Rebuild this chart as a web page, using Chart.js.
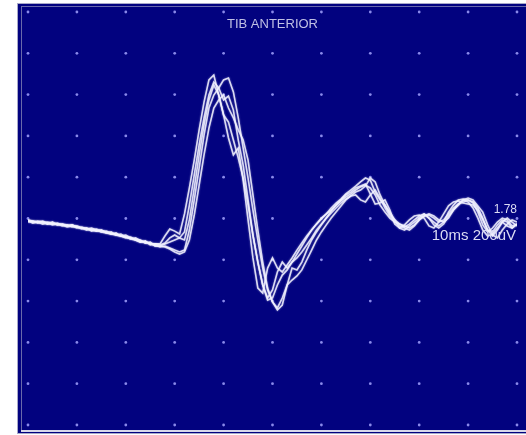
<!DOCTYPE html>
<html>
<head>
<meta charset="utf-8">
<script src="https://cdn.jsdelivr.net/npm/chart.js@4/dist/chart.umd.min.js"></script>
<style>
  html, body { margin: 0; padding: 0; background: #fff; }
  #wrap { width: 526px; height: 435px; }
</style>
</head>
<body>
<div id="wrap"><canvas id="myChart" width="526" height="435"></canvas></div>
<script>
// EMG traces, tib anterior, 10 ms/div and 200 uV/div

const title = 'TIB ANTERIOR'
const scaleText = '10ms 200uV'
const ampText = '1.78'

// time in ms
const timeMs = [0,1,2,3,4,5,6,7,8,9,10,11,12,13,14,15,16,17,18,19,20,21,22,23,24,25,26,27,28,29,30,
  31,32,33,34,35,36,37,38,39,40,41,42,43,44,45,46,47,48,49,50,51,52,53,54,55,56,57,58,59,60,
  61,62,63,64,65,66,67,68,69,70,71,72,73,74,75,76,77,78,79,80,81,82,83,84,85,86,87,88,89,90,
  91,92,93,94,95,96,97,98,99,100]

// grid divisions
const xTicks = [0,10,20,30,40,50,60,70,80,90,100]
const yTicks = [-1000,-800,-600,-400,-200,0,200,400,600,800,1000]

// amplitude in uV, one array per sweep
const sweep1 = [-12,-17,-17,-12,-22,-27,-22,-31,-36,-31,-41,-46,-46,-56,-61,-56,-70,-75,-70,-85,-90,-94,-104,-114,-109,-123,-123,
  -123,-85,-51,-61,-75,22,148,283,429,564,671,695,598,501,390,308,341,186,-7,-191,-337,-361,-240,-191,
  -240,-259,-225,-191,-153,-119,-85,-56,-27,2,22,41,65,85,104,119,138,153,162,148,
  114,65,31,2,-17,-27,-36,-46,-31,-7,12,22,12,-7,-17,2,41,70,90,80,
  51,2,-56,-85,-75,-46,-17,-36,-46,-27]
const sweep2 = [-7,-12,-17,-22,-17,-22,-31,-27,-31,-41,-36,-46,-51,-46,-56,-65,-61,-70,-80,-85,-80,-94,-99,-104,-119,-114,-133,
  -133,-123,-114,-104,-94,-65,65,211,356,487,598,661,632,574,593,525,380,259,90,-80,-211,-322,-385,-346,
  -259,-211,-240,-211,-172,-133,-94,-56,-27,-2,22,51,75,94,119,138,157,177,196,186,
  128,90,65,22,-7,-27,-41,-27,-7,12,22,2,-17,-36,-17,31,65,90,94,90,
  80,51,2,-56,-85,-56,-17,2,-17,-36]
const sweep3 = [-17,-12,-22,-17,-27,-22,-27,-36,-31,-36,-46,-41,-51,-56,-51,-61,-65,-75,-80,-75,-90,-99,-94,-109,-114,-123,-128,
  -138,-133,-143,-153,-162,-153,-56,90,245,404,535,598,632,671,680,613,487,341,196,41,-104,-240,-346,-404,
  -443,-419,-322,-240,-249,-211,-153,-104,-65,-31,2,36,65,90,114,128,148,157,167,119,
  70,75,90,41,-27,-46,-31,-7,12,17,2,-36,-46,-17,22,61,80,85,75,70,
  65,41,-7,-56,-65,-31,-7,-17,-46,-27]
const sweep4 = [-12,-22,-17,-27,-22,-31,-27,-31,-41,-36,-41,-51,-46,-61,-56,-65,-70,-65,-80,-85,-94,-90,-104,-109,-119,-119,-133,
  -133,-138,-148,-162,-172,-162,-104,17,162,308,438,535,574,598,535,487,429,380,283,114,-56,-211,-337,-404,
  -433,-385,-322,-298,-278,-249,-201,-153,-104,-65,-31,2,31,61,90,109,128,138,157,196,
  177,114,65,31,-7,-46,-56,-36,-17,2,22,2,-31,-46,-27,12,41,65,90,99,
  90,61,31,-31,-80,-94,-56,-27,-7,-17]
const sweep5 = [-7,-17,-12,-17,-27,-17,-31,-27,-36,-31,-41,-46,-56,-51,-61,-56,-65,-75,-75,-85,-90,-99,-104,-114,-109,-128,-123,
  -128,-119,-94,-80,-94,-104,-7,148,308,453,574,647,598,501,467,380,293,196,65,-80,-211,-322,-395,-385,
  -322,-274,-249,-211,-191,-162,-128,-94,-56,-27,2,27,51,75,94,109,114,90,80,114,
  138,99,51,12,-17,-36,-46,-56,-36,-7,12,17,2,-17,-7,22,51,70,80,90,
  75,31,-31,-65,-46,-17,2,-7,-36,-27]

const sweeps = [sweep1, sweep2, sweep3, sweep4, sweep5]

// screen background, frame and dotted graticule
const scopePlugin = {
    id: 'scope',
    beforeDraw(chart) {
        const ctx = chart.ctx
        const xs = chart.scales.x
        const ys = chart.scales.y
        ctx.save()
        ctx.fillStyle = '#02027f'
        ctx.fillRect(17, 3, 509, 431)
        ctx.strokeStyle = '#a8a8c8'
        ctx.lineWidth = 1
        ctx.strokeRect(17.5, 3.5, 509, 430)
        ctx.strokeStyle = 'rgba(150,150,190,0.7)'
        ctx.strokeRect(21.5, 6.5, 506, 424)
        ctx.strokeStyle = '#d8d8ea'
        ctx.lineWidth = 2
        ctx.beginPath()
        ctx.moveTo(21, 431)
        ctx.lineTo(526, 431)
        ctx.stroke()
        ctx.fillStyle = '#8a8aea'
        xTicks.forEach(tx => {
            yTicks.forEach(ty => {
                ctx.beginPath()
                ctx.arc(xs.getPixelForValue(tx), ys.getPixelForValue(ty), 1.4, 0, Math.PI * 2)
                ctx.fill()
            })
        })
        ctx.restore()
    },
    beforeDatasetsDraw(chart) {
        // soft glow like the scanned trace
        chart.ctx.save()
        chart.ctx.shadowColor = 'rgba(230,230,255,0.6)'
        chart.ctx.shadowBlur = 2
    },
    afterDatasetsDraw(chart) {
        chart.ctx.restore()
    },
    afterDraw(chart) {
        const ctx = chart.ctx
        const area = chart.chartArea
        ctx.save()
        ctx.fillStyle = '#c0c0e4'
        ctx.font = '13px "Liberation Sans", Arial, sans-serif'
        ctx.textAlign = 'center'
        ctx.textBaseline = 'middle'
        ctx.fillText(title, (area.left + area.right) / 2, 24)
        ctx.fillStyle = '#dcdcf4'
        ctx.textAlign = 'right'
        ctx.font = '12px "Liberation Sans", Arial, sans-serif'
        ctx.fillText(ampText, area.right, 210)
        ctx.font = '15px "Liberation Sans", Arial, sans-serif'
        ctx.fillText(scaleText, area.right - 1, 236)
        ctx.restore()
    }
}

function createChart() {
    const ctx = document.getElementById('myChart')
    const myChart = new Chart(ctx, {
        type: 'line',
        data: {
            datasets: sweeps.map((s, i) => ({
                label: 'sweep ' + (i + 1),
                data: timeMs.map((t, j) => ({ x: t, y: s[j] })),
                borderColor: 'rgba(245,245,255,0.85)',
                borderWidth: 1.6,
                pointRadius: 0,
                tension: 0,
                fill: false
            }))
        },
        options: {
            responsive: false,
            animation: false,
            layout: {
                padding: { left: 28, right: 9, top: 12, bottom: 10 }
            },
            scales: {
                x: { type: 'linear', min: 0, max: 100, display: false },
                y: { min: -1000, max: 1000, display: false }
            },
            plugins: {
                legend: { display: false },
                tooltip: { enabled: false }
            }
        },
        plugins: [scopePlugin]
    })
}

createChart()
</script>
</body>
</html>
